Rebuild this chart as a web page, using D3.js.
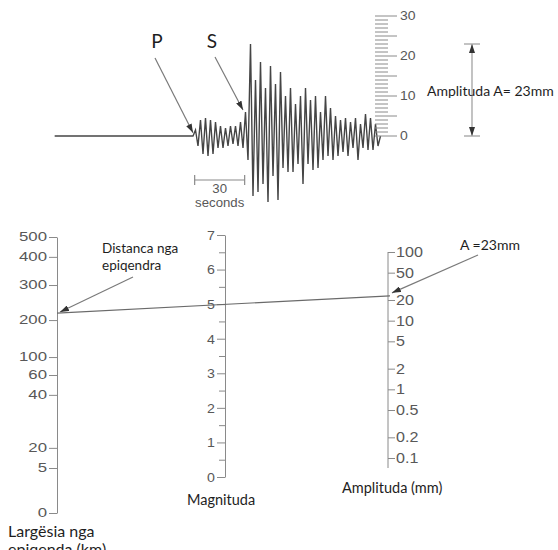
<!DOCTYPE html>
<html>
<head>
<meta charset="utf-8">
<script src="https://cdn.jsdelivr.net/npm/d3@7"></script>
<style>
  body { margin: 0; background: #fff; }
  svg { display: block; }
  .lbl { font-family: Lato, "Open Sans", sans-serif; fill: #1e1e1e; }
  .num { font-family: "Liberation Sans", Arial, sans-serif; }
</style>
</head>
<body>
<svg id="chart" width="558" height="550"></svg>
<script>
// --- seismogram: trace extremes in mm, one every 1.5 s from the P arrival
var stepSec = 1.5;
var quietStartSec = -83;
var pWaveMm = [1.5, -2.5, 4, -4.5, 4.5, -5, 4, -4.5, 3.5, -3, 2.5, -3, 2, -2.5, 2.5, -2, 2.5, -2.5, 3.5, -3];
var sWaveMm = [6, -6, 23, -15, 14, -14, 18.5, -12, 12, -16.5, 17.5, -10, 13, -16, 16, -8, 10, -9, 12, -9,
               8, -7, 10, -12, 12, -7, 9, -8.5, 10, -8, 6, -6, 10, -5, 7, -6, 5, -5, 4, -4,
               4.5, -5, 3.5, -3, 4.5, -6, 3, -3, 5.5, -3.5, 4.5, -3.5, 3, -2.5];
var mmLabels = [0, 10, 20, 30];
var barSec = [1, 31];

// --- nomogram
var magTicks = [0, 1, 2, 3, 4, 5, 6, 7];
var magMinor = [0.5, 1.5, 2.5, 3.5, 4.5, 5.5, 6.5];
var distTicks = [0, 5, 20, 40, 60, 100, 200, 300, 400, 500];
var distLevel = [0, 16.3, 23.6, 42.8, 50, 56.5, 69.9, 82.6, 92.8, 100]; // printed place on the rule, % of length
var ampTicks = [0.1, 0.2, 0.5, 1, 2, 5, 10, 20, 50, 100];
var readDistKm = 220;
var readAmpMm = 23;

var svg = d3.select("#chart");

var defs = svg.append("defs");
defs.append("marker")
  .attr("id", "tip")
  .attr("viewBox", "0 0 9 6")
  .attr("refX", 9).attr("refY", 3)
  .attr("markerWidth", 9).attr("markerHeight", 6)
  .attr("markerUnits", "userSpaceOnUse")
  .attr("orient", "auto-start-reverse")
  .append("path").attr("d", "M0,0L9,3L0,6Z").attr("fill", "#333");

// stretched number label helper
function stretch(sel, size, sx, gap, anchor) {
  sel.attr("class", "num")
    .attr("x", null)
    .style("font-size", size + "px")
    .attr("text-anchor", anchor)
    .attr("fill", "#585858")
    .attr("transform", "translate(" + gap + ",0) scale(" + sx + ",1)");
}

// ================= seismogram =================
var xT = d3.scaleLinear().domain([0, 30]).range([193, 243]);
var yMm = d3.scaleLinear().domain([0, 30]).range([136, 16]);

var trace = [[quietStartSec, 0], [0, 0]];
pWaveMm.concat(sWaveMm).forEach(function(v, i) { trace.push([(i + 1) * stepSec, v]); });
trace.push([(pWaveMm.length + sWaveMm.length + 1) * stepSec, 0]);

svg.append("path")
  .datum(trace)
  .attr("fill", "none")
  .attr("stroke", "#454545")
  .attr("stroke-width", 1.4)
  .attr("stroke-linejoin", "miter")
  .attr("d", d3.line().x(function(d) { return xT(d[0]); }).y(function(d) { return yMm(d[1]); }));

// mm scale beside the trace
var sx0 = 375;
svg.append("g").selectAll("line")
  .data(yMm.ticks(30))
  .enter().append("line")
  .attr("x1", sx0)
  .attr("x2", function(d) { return d % 5 === 0 ? sx0 + 22 : sx0 + 13; })
  .attr("y1", function(d) { return yMm(d); })
  .attr("y2", function(d) { return yMm(d); })
  .attr("stroke", "#8a8a8a")
  .attr("stroke-width", 1);

svg.append("g").selectAll("text")
  .data(mmLabels)
  .enter().append("text")
  .attr("y", function(d) { return yMm(d); })
  .attr("dy", "0.36em")
  .text(function(d) { return d; })
  .call(stretch, 12.5, 1.12, 400, "start");

// 30 seconds bar
var barY = 180;
var bar = svg.append("g").attr("stroke", "#8a8a8a").attr("stroke-width", 1.2);
bar.append("line").attr("x1", xT(barSec[0])).attr("x2", xT(barSec[1])).attr("y1", barY).attr("y2", barY);
barSec.forEach(function(s) {
  bar.append("line").attr("x1", xT(s)).attr("x2", xT(s)).attr("y1", barY - 5).attr("y2", barY + 5);
});
var midBar = (xT(barSec[0]) + xT(barSec[1])) / 2;
svg.append("text").attr("y", 193).text("30").call(stretch, 12, 1.1, midBar, "middle");
svg.append("text").attr("y", 207).text("seconds").call(stretch, 12, 1.1, midBar, "middle");

// P and S labels with arrows
svg.append("text").attr("class", "lbl").attr("x", 157).attr("y", 48)
  .attr("text-anchor", "middle").style("font-size", "19px").text("P");
svg.append("text").attr("class", "lbl").attr("x", 212).attr("y", 48)
  .attr("text-anchor", "middle").style("font-size", "19px").text("S");

function arrow(x1, y1, x2, y2, both) {
  var l = svg.append("line")
    .attr("x1", x1).attr("y1", y1).attr("x2", x2).attr("y2", y2)
    .attr("stroke", "#7a7a7a").attr("stroke-width", 1.2)
    .attr("marker-end", "url(#tip)");
  if (both) l.attr("marker-start", "url(#tip)");
  return l;
}
arrow(155, 58, xT(0), yMm(0.8));
arrow(215, 57, xT(30), yMm(6.5));

// amplitude measure
var ax = 472;
arrow(ax, yMm(readAmpMm), ax, yMm(0), true).attr("stroke", "#9a9a9a");
[readAmpMm, 0].forEach(function(v) {
  svg.append("line").attr("x1", ax - 8).attr("x2", ax + 8)
    .attr("y1", yMm(v)).attr("y2", yMm(v))
    .attr("stroke", "#9a9a9a").attr("stroke-width", 1.2);
});
svg.append("text").attr("class", "lbl").attr("x", 427).attr("y", 96)
  .style("font-size", "14px").text("Amplituda A= 23mm");

// ================= nomogram =================
var xL = 57, xM = 225, xR = 388;

var yLevel = d3.scaleLinear().domain([0, 100]).range([513, 237]);
var yDist = d3.scaleLinear().domain(distTicks).range(distLevel.map(yLevel));
var yMag = d3.scaleLinear().domain([0, 7]).range([477, 235]);
var yAmp = d3.scaleLog().domain([0.1, 100]).range([458, 252]);

function styleAxis(g) {
  g.selectAll("line, path").attr("stroke", "#8a8a8a").attr("stroke-width", 1);
}

// distance
var gL = svg.append("g").attr("transform", "translate(" + xL + ",0)")
  .call(d3.axisLeft(yDist).tickValues(distTicks).tickSize(8).tickSizeOuter(0)
    .tickFormat(function(d) { return d; }));
gL.call(styleAxis);
gL.selectAll("text").call(stretch, 12, 1.4, -10, "end");

// magnitude
var gM = svg.append("g").attr("transform", "translate(" + xM + ",0)")
  .call(d3.axisLeft(yMag).tickValues(magTicks).tickSize(8).tickSizeOuter(0)
    .tickFormat(d3.format("d")));
gM.call(styleAxis);
gM.selectAll("text").call(stretch, 13.5, 1.05, -10, "end");
var gM2 = svg.append("g").attr("transform", "translate(" + xM + ",0)")
  .call(d3.axisLeft(yMag).tickValues(magMinor).tickSize(6).tickFormat(""));
gM2.select(".domain").remove();
gM2.call(styleAxis);

// amplitude
var gR = svg.append("g").attr("transform", "translate(" + xR + ",0)")
  .call(d3.axisRight(yAmp).tickValues(ampTicks).tickSize(7).tickSizeOuter(0)
    .tickFormat(function(d) { return String(d); }));
gR.select(".domain").remove();
gR.call(styleAxis);
gR.append("line").attr("x1", 0).attr("x2", 0)
  .attr("y1", yAmp(100)).attr("y2", yAmp(0.1) + 10)
  .attr("stroke", "#8a8a8a").attr("stroke-width", 1);
gR.selectAll("text").call(stretch, 14, 1.15, 8, "start");

// reading line: distance -> amplitude, crossing the magnitude rule
svg.append("line")
  .attr("x1", xL).attr("y1", yDist(readDistKm))
  .attr("x2", xR + 2).attr("y2", yAmp(readAmpMm))
  .attr("stroke", "#6a6a6a").attr("stroke-width", 1.2);

arrow(133, 277, xL + 3, yDist(readDistKm) - 1);
arrow(478, 255, xR + 4, yAmp(readAmpMm) - 3);

// labels
function lbl(x, y, size, t) {
  svg.append("text").attr("class", "lbl").attr("x", x).attr("y", y)
    .style("font-size", size + "px").text(t);
}
lbl(102, 253, 13.5, "Distanca nga");
lbl(102, 270, 13.5, "epiqendra");
lbl(460, 250, 14, "A =23mm");
lbl(187, 505, 14.5, "Magnituda");
lbl(342, 493, 14.5, "Amplituda (mm)");
lbl(8, 537, 16, "Largësia nga");
lbl(8, 555, 16, "epiqenda (km)");
</script>
</body>
</html>
